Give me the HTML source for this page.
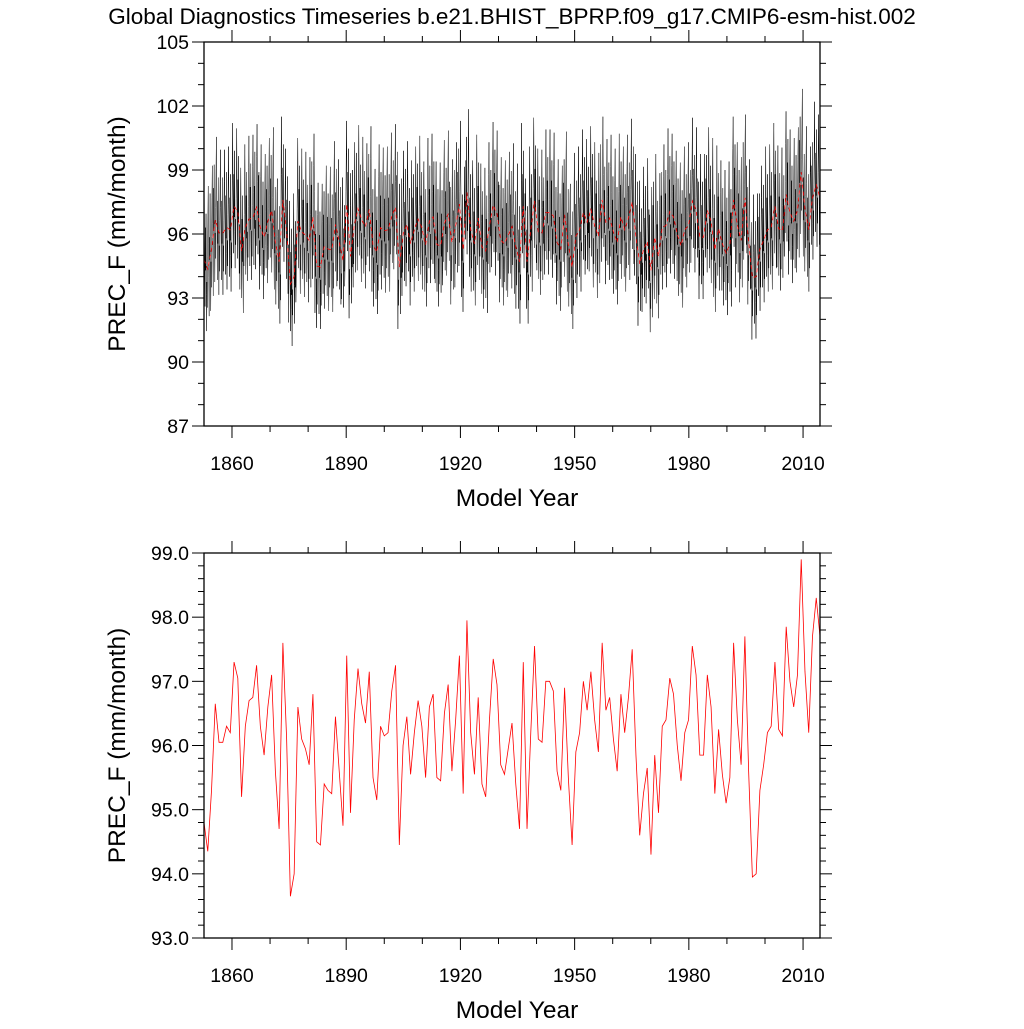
<!DOCTYPE html>
<html><head><meta charset="utf-8">
<style>
html,body{margin:0;padding:0;background:#fff;}
svg text{font-family:"Liberation Sans",Arial,sans-serif;fill:#000;}
</style></head>
<body>
<svg id="chart" width="1024" height="1024" viewBox="0 0 1024 1024" xmlns="http://www.w3.org/2000/svg">
<text x="512" y="24" font-size="22.5" text-anchor="middle">Global Diagnostics Timeseries b.e21.BHIST_BPRP.f09_g17.CMIP6-esm-hist.002</text>
<g id="top"></g>
<g id="bot"></g>
</svg>
<script>
const startYear = 1850;
const annualPrec = [94.8,94.35,95.3,96.65,96.05,96.05,96.3,96.2,97.3,97.05,95.2,96.3,96.7,96.75,97.25,96.3,95.85,96.6,97.1,95.6,
94.7,97.6,96.1,93.65,94.0,96.6,96.1,95.95,95.7,96.8,94.5,94.45,95.4,95.3,95.25,96.45,95.6,94.75,97.4,94.95,
96.4,97.2,96.65,96.35,97.15,95.5,95.15,96.3,96.15,96.2,96.85,97.25,94.45,96.0,96.45,95.55,96.2,96.7,96.3,95.5,
96.6,96.8,95.5,95.45,96.5,96.95,95.6,96.4,97.4,95.25,97.95,96.2,95.55,96.75,95.4,95.2,96.4,97.35,96.95,95.7,
95.55,95.95,96.35,95.4,94.7,97.3,94.7,96.2,97.55,96.1,96.05,97.0,97.0,96.85,95.6,95.3,96.9,95.5,94.45,95.9,
96.2,97.0,96.55,97.15,96.4,95.9,97.6,96.55,96.75,96.1,95.6,96.8,96.2,96.75,97.5,95.85,94.6,95.25,95.65,94.3,
95.85,94.95,96.3,96.4,97.05,96.8,96.0,95.45,96.2,96.4,97.55,97.1,95.85,95.85,97.1,96.6,95.25,96.25,95.55,95.1,
95.5,97.6,96.4,95.7,97.7,95.6,93.95,94.0,95.3,95.7,96.2,96.3,97.3,96.25,96.15,97.85,97.0,96.6,97.1,98.9,
97.15,96.2,97.7,98.3,97.7];
const seasonalAnom = [-1.2,-2.9,-0.6,-1.8,0.6,2.4,3.9,1.2,-0.4,-2.2,1.5,-0.5,2.6];
const xTickLabels = [1860,1890,1920,1950,1980,2010];
const topYTicks = [87,90,93,96,99,102,105];
const botYTicks = ["93.0","94.0","95.0","96.0","97.0","98.0","99.0"];

const NS="http://www.w3.org/2000/svg";
const X0=204,X1=820;
// tick (label) axis
const TMIN=1852.65,TMAX=2014.45;
function xt(y){return X0+(y-TMIN)/(TMAX-TMIN)*(X1-X0);}
// data axis: first to last year spans the frame
const DMIN=startYear,DMAX=startYear+annualPrec.length-1;
function xd(y){return X0+(y-DMIN)/(DMAX-DMIN)*(X1-X0);}
function mk(tag,attrs,parent){const e=document.createElementNS(NS,tag);for(const k in attrs)e.setAttribute(k,attrs[k]);parent.appendChild(e);return e;}

function panel(g,top,bot,ymin,ymax,major,minor,yLabels){
  const ys=v=>bot-(v-ymin)/(ymax-ymin)*(bot-top);
  for(let yr=1860;yr<=TMAX;yr+=10){
    const x=xt(yr),maj=(yr-1860)%30===0,L=maj?12:6;
    const t1=mk('line',{x1:x,x2:x,y1:bot,y2:bot+L,stroke:'#000','stroke-width':1},g);
    
    
    const t2=mk('line',{x1:x,x2:x,y1:top,y2:top-L,stroke:'#000','stroke-width':1},g);
    
    
  }
  xTickLabels.forEach(v=>{
    const t=mk('text',{x:xt(v),y:bot+44,'font-size':19.5,'text-anchor':'middle'},g);t.textContent=v;
    
    
  });
  const n=Math.round((ymax-ymin)/minor);
  for(let i=0;i<=n;i++){
    const v=ymin+i*minor,y=ys(v),maj=Math.abs(((v-ymin)/major)-Math.round((v-ymin)/major))<1e-6,L=maj?12:6;
    const a=mk('line',{x1:X0-L,x2:X0,y1:y,y2:y,stroke:'#000','stroke-width':1},g);
    
    
    const b=mk('line',{x1:X1,x2:X1+L,y1:y,y2:y,stroke:'#000','stroke-width':1},g);
    
    
  }
  yLabels.forEach((lab,i)=>{
    const v=ymin+i*major;
    const t=mk('text',{x:X0-15,y:ys(v)+7,'font-size':19.5,'text-anchor':'end'},g);t.textContent=lab;
    
    
  });
  const yt=mk('text',{x:0,y:0,'font-size':24.5,'text-anchor':'middle',transform:`translate(125,${(top+bot)/2}) rotate(-90)`},g);
  yt.textContent='PREC_F (mm/month)';
  
  
  const xa=mk('text',{x:(X0+X1)/2+5,y:bot+80,'font-size':24.5,'text-anchor':'middle'},g);
  xa.textContent='Model Year';
  
  
  return ys;
}

const gt=document.getElementById('top'),gb=document.getElementById('bot');
const ysT=panel(gt,42,426,87,105,3,1,topYTicks.map(String));
const ysB=panel(gb,553,938,93,99,1,0.2,botYTicks);

let pts=[];let k=0;
annualPrec.forEach((v,i)=>{for(let m=0;m<12;m++){
  const yr=Math.min(DMAX,Math.max(DMIN,startYear+i-0.5+(m+0.5)/12));
  pts.push(xd(yr).toFixed(2)+','+ysT(v+seasonalAnom[k%seasonalAnom.length]).toFixed(2));k++;}});
const ml=mk('polyline',{points:pts.join(' '),fill:'none',stroke:'#000','stroke-width':0.5},gt);


const ptsA=annualPrec.map((v,i)=>xd(startYear+i).toFixed(2)+','+ysT(v).toFixed(2)).join(' ');
const rl=mk('polyline',{points:ptsA,fill:'none',stroke:'#f00','stroke-width':0.8,'stroke-dasharray':'4,3'},gt);


const ptsB=annualPrec.map((v,i)=>xd(startYear+i).toFixed(2)+','+ysB(v).toFixed(2)).join(' ');
const bl=mk('polyline',{points:ptsB,fill:'none',stroke:'#f00','stroke-width':0.8},gb);


[[gt,42,426],[gb,553,938]].forEach(([g,t,b])=>{
  const r=mk('rect',{x:X0,y:t,width:X1-X0,height:b-t,fill:'none',stroke:'#000','stroke-width':1.3},g);
  
  
});
</script>
</body></html>
